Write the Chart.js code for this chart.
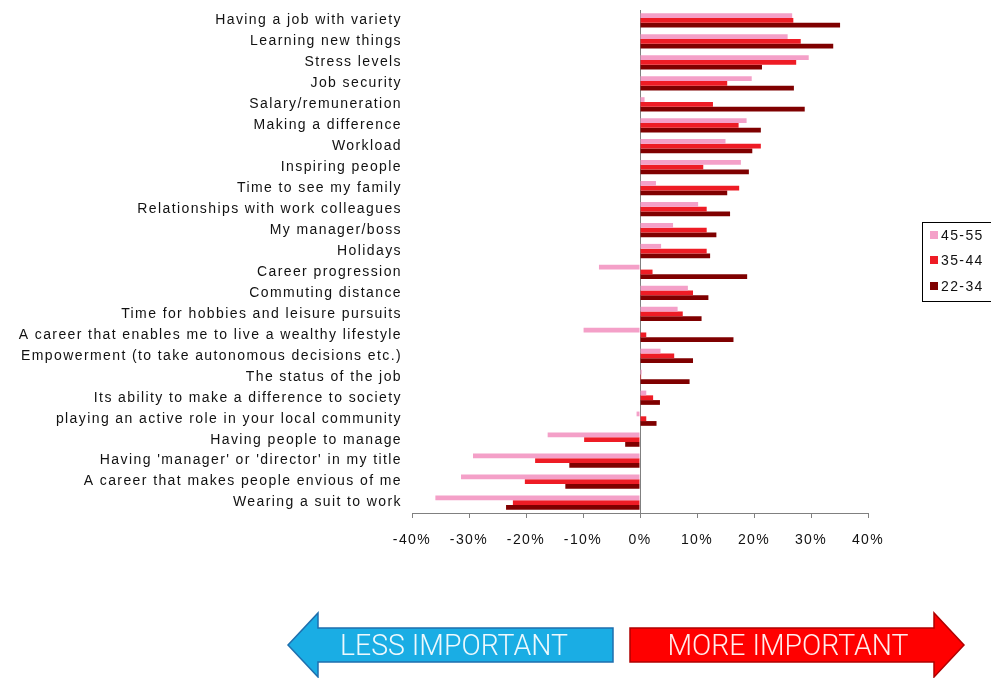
<!DOCTYPE html>
<html>
<head>
<meta charset="utf-8">
<script src="https://cdn.jsdelivr.net/npm/chart.js@4.4.1/dist/chart.umd.min.js"></script>
<style>
html,body{margin:0;padding:0;background:#fff;}
canvas{display:block;}
</style>
</head>
<body>
<canvas id="c" width="991" height="678"></canvas>
<script>
const categories = [
  "Having a job with variety",
  "Learning new things",
  "Stress levels",
  "Job security",
  "Salary/remuneration",
  "Making a difference",
  "Workload",
  "Inspiring people",
  "Time to see my family",
  "Relationships with work colleagues",
  "My manager/boss",
  "Holidays",
  "Career progression",
  "Commuting distance",
  "Time for hobbies and leisure pursuits",
  "A career that enables me to live a wealthy lifestyle",
  "Empowerment (to take autonomous decisions etc.)",
  "The status of the job",
  "Its ability to make a difference to society",
  "playing an active role in your local community",
  "Having people to manage",
  "Having 'manager' or 'director' in my title",
  "A career that makes people envious of me",
  "Wearing a suit to work"
];
const seriesNames = ["45-55", "35-44", "22-34"];
const values4555 = [26.7, 25.9, 29.6, 19.6, 0.8, 18.7, 15.0, 17.7, 2.8, 10.2, 5.8, 3.7, -7.2, 8.4, 6.6, -9.9, 3.6, 0.3, 1.1, -0.6, -16.2, -29.3, -31.4, -35.9];
const values3544 = [26.9, 28.2, 27.4, 15.3, 12.8, 17.3, 21.2, 11.1, 17.4, 11.7, 11.7, 11.7, 2.2, 9.3, 7.5, 1.1, 6.0, 0.2, 2.3, 1.1, -9.8, -18.4, -20.2, -22.3];
const values2234 = [35.1, 33.9, 21.4, 27.0, 28.9, 21.2, 19.7, 19.1, 15.3, 15.8, 13.4, 12.3, 18.8, 12.0, 10.8, 16.4, 9.3, 8.7, 3.5, 2.9, -2.6, -12.4, -13.1, -23.5];
const xTicksMin = -40, xTicksMax = 40, xTickStep = 10;
const arrowLabels = ["LESS IMPORTANT", "MORE IMPORTANT"];

const colors = ["#F4A0C8", "#EE1C25", "#7F0000"];
const FONT = "'Liberation Sans', Arial, sans-serif";

const spacingPlugin = {
  id: 'spacing',
  beforeDraw(chart) {
    chart.ctx.letterSpacing = '1.4px';
  }
};

const decoPlugin = {
  id: 'deco',
  afterDraw(chart) {
    const ctx = chart.ctx;
    ctx.save();
    // legend
    ctx.letterSpacing = '1.4px';
    ctx.lineWidth = 1;
    ctx.strokeStyle = '#000';
    ctx.strokeRect(922.5, 222.5, 80, 79);
    const ys = [235, 260, 286];
    ctx.font = "14px " + FONT;
    ctx.textBaseline = 'middle';
    ctx.textAlign = 'left';
    for (let i = 0; i < 3; i++) {
      ctx.fillStyle = colors[i];
      ctx.fillRect(930, ys[i] - 4, 8, 8);
      ctx.fillStyle = '#111';
      ctx.fillText(seriesNames[i], 941, ys[i] + 1);
    }
    // arrows
    const drawPoly = (pts, fill, stroke) => {
      ctx.beginPath();
      ctx.moveTo(pts[0][0], pts[0][1]);
      for (let k = 1; k < pts.length; k++) ctx.lineTo(pts[k][0], pts[k][1]);
      ctx.closePath();
      ctx.fillStyle = fill;
      ctx.fill();
      ctx.lineWidth = 1.5;
      ctx.strokeStyle = stroke;
      ctx.stroke();
    };
    drawPoly([[288,645],[318,613],[318,628],[613,628],[613,662],[318,662],[318,677]], '#1AADE4', '#1E6FAE');
    drawPoly([[630,628],[934,628],[934,613],[964,645],[934,677],[934,662],[630,662]], '#FF0000', '#B00000');
    ctx.font = "300 30px Roboto, " + FONT;
    ctx.letterSpacing = '0px';
    ctx.textAlign = 'center';
    ctx.textBaseline = 'alphabetic';
    ctx.fillStyle = 'rgba(255,255,255,0.92)';
    ctx.fillText(arrowLabels[0], 454, 655, 228);
    ctx.fillText(arrowLabels[1], 788, 655, 241);
    ctx.restore();
  }
};

new Chart(document.getElementById('c'), {
  type: 'bar',
  data: {
    labels: categories,
    datasets: [
      { label: seriesNames[0], data: values4555, backgroundColor: colors[0] },
      { label: seriesNames[1], data: values3544, backgroundColor: colors[1] },
      { label: seriesNames[2], data: values2234, backgroundColor: colors[2] }
    ]
  },
  options: {
    indexAxis: 'y',
    responsive: false,
    animation: false,
    devicePixelRatio: 1,
    layout: { padding: { top: 10, right: 123, left: 0, bottom: 0 } },
    datasets: { bar: { categoryPercentage: 0.68, barPercentage: 1.0 } },
    plugins: { legend: { display: false }, tooltip: { enabled: false } },
    scales: {
      y: {
        grid: { display: false, drawTicks: false },
        border: { display: false },
        ticks: { color: '#111', font: { family: FONT, size: 14 }, padding: 10, autoSkip: false },
        afterFit(s) { s.width = 412; s.paddingTop = 0; s.paddingBottom = 0; }
      },
      x: {
        min: xTicksMin, max: xTicksMax,
        ticks: { stepSize: xTickStep, color: '#111', font: { family: FONT, size: 14 }, padding: 14,
                 callback: v => v + '%' },
        grid: {
          color: c => (c.tick && c.tick.value === 0) ? '#808080' : 'rgba(0,0,0,0)',
          tickColor: '#808080', tickLength: 5, lineWidth: 1
        },
        border: { display: true, color: '#808080', width: 1 },
        afterFit(s) { s.height = 165; }
      }
    }
  },
  plugins: [spacingPlugin, decoPlugin]
});
</script>
</body>
</html>
